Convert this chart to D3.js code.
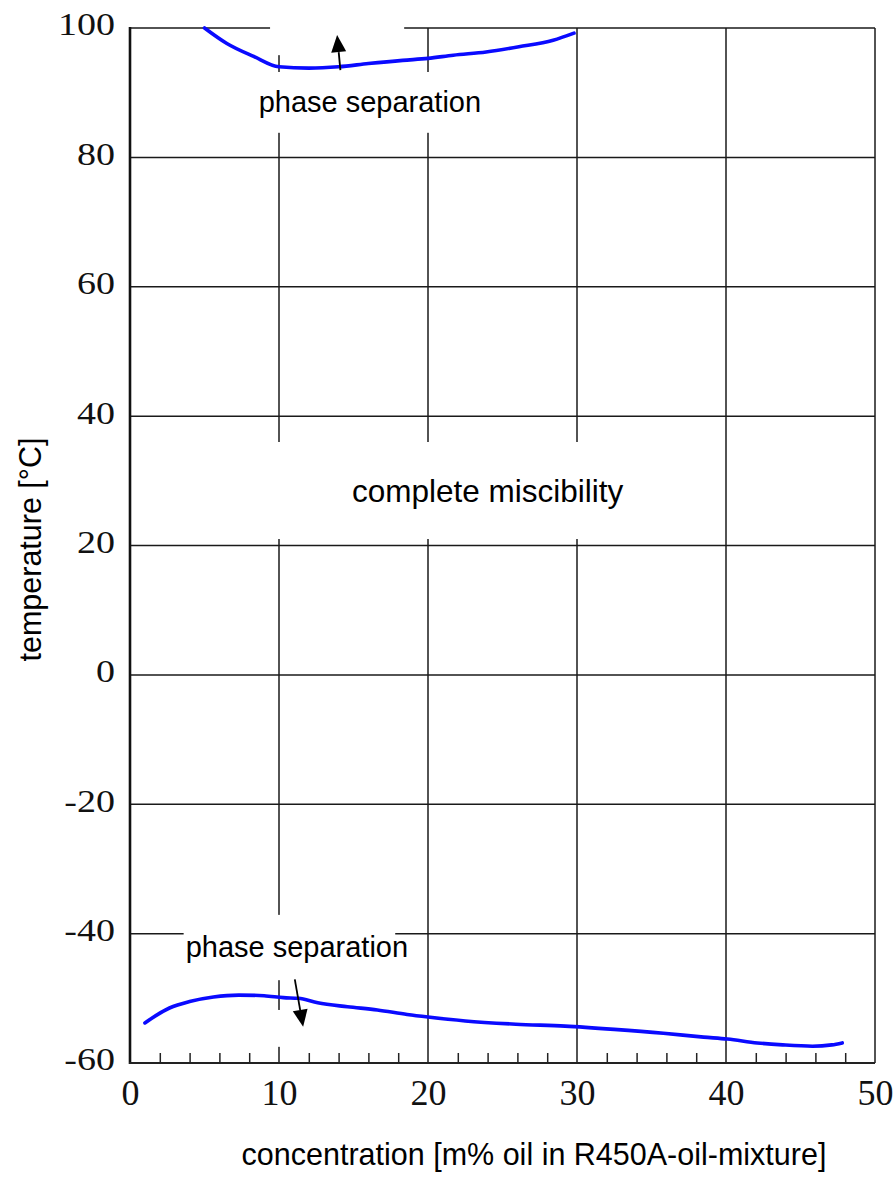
<!DOCTYPE html>
<html><head><meta charset="utf-8">
<script src="https://cdn.jsdelivr.net/npm/d3@7"></script>
<style>body{margin:0;background:#fff} svg{display:block}</style>
</head><body>
<svg id="c" width="896" height="1180"></svg>
<script>
// ---- data ----
const xTicks = [0, 10, 20, 30, 40, 50];
const yTicks = [-60, -40, -20, 0, 20, 40, 60, 80, 100];
const xTickLabels = ["0", "10", "20", "30", "40", "50"];
const yTickLabels = ["-60", "-40", "-20", "0", "20", "40", "60", "80", "100"];
const xMinorTicks = [2, 4, 6, 8, 12, 14, 16, 18, 22, 24, 26, 28, 32, 34, 36, 38, 42, 44, 46, 48];
const upperConc = [5, 6.5, 8.3, 10, 12, 14, 16, 18.3, 20, 21.7, 23.9, 26.1, 28.4, 29.8];
const upperTemp = [100, 97.6, 95.6, 94.0, 93.8, 94.0, 94.5, 95.0, 95.3, 95.8, 96.3, 97.1, 98.1, 99.2];
const lowerConc = [1, 2.65, 4, 5.6, 7.3, 9, 10.3, 11.3, 12.6, 14.6, 16.6, 18.6, 20, 22.5, 25.9, 29.2, 32.5, 35.8, 38.5, 40.1, 42.1, 43.8, 45.8, 47.1, 47.8];
const lowerTemp = [-53.8, -51.5, -50.5, -49.8, -49.5, -49.6, -49.9, -50.0, -50.7, -51.3, -51.8, -52.5, -52.9, -53.5, -54.0, -54.3, -54.8, -55.4, -56.0, -56.3, -56.9, -57.2, -57.4, -57.2, -56.9];
const labelTexts = ["phase separation", "complete miscibility", "phase separation"];
const labelConc = [16.1, 24.0, 11.2];
const labelTemp = [87.0, 26.7, -43.6];
const arrowFrom = [[14.12, 93.5], [11.06, -47.06]];
const arrowTo = [[13.9, 98.9], [11.62, -54.4]];
// label masks (data units): [c0, c1, t0, t1]
const masks = [[9.4, 18.4, 95.8, 104.5], [8.0, 24.1, 83.8, 93.2], [7.4, 35.5, 21.0, 36.0], [3.6, 17.8, -47.2, -37.1], [9.5, 10.7, -57.5, -51.8]];
const xTitle = "concentration [m% oil in R450A-oil-mixture]";
const yTitle = "temperature [°C]";

// ---- layout ----
const W = 896, H = 1180;
const m = {l: 130, t: 28, r: 21, b: 117};
const svg = d3.select("#c");
const x = d3.scaleLinear().domain([0, 50]).range([m.l, W - m.r]);
const y = d3.scaleLinear().domain([-60, 100]).range([H - m.b, m.t]);
const X0 = x(0), X1 = x(50), Y0 = y(-60), Y1 = y(100);

// gridlines
const grid = svg.append("g").attr("stroke", "#1a1a1a").attr("stroke-width", 1.5);
grid.selectAll("line.h").data(yTicks.filter(d => d > -60)).join("line")
  .attr("x1", X0).attr("x2", X1).attr("y1", d => y(d)).attr("y2", d => y(d));
grid.selectAll("line.v").data(xTicks.filter(d => d > 0)).join("line")
  .attr("y1", Y1).attr("y2", Y0).attr("x1", d => x(d)).attr("x2", d => x(d));

// white label masks
svg.append("g").selectAll("rect").data(masks).join("rect")
  .attr("x", d => x(d[0])).attr("width", d => x(d[1]) - x(d[0]))
  .attr("y", d => y(d[3])).attr("height", d => y(d[2]) - y(d[3]))
  .attr("fill", "#fff");

// axes lines
svg.append("line").attr("x1", X0).attr("x2", X0).attr("y1", Y1 - 1).attr("y2", Y0 + 1)
  .attr("stroke", "#111").attr("stroke-width", 2.6);
svg.append("line").attr("x1", X0 - 1).attr("x2", X1).attr("y1", Y0).attr("y2", Y0)
  .attr("stroke", "#222").attr("stroke-width", 2);

// minor ticks
const minor = svg.append("g").attr("transform", `translate(0,${Y0})`)
  .call(d3.axisTop(x).tickValues(xMinorTicks).tickSize(10).tickFormat(""));
minor.select(".domain").remove();
minor.selectAll("line").attr("stroke", "#222").attr("stroke-width", 1.5);

// x tick labels
const xa = svg.append("g").attr("transform", `translate(0,${Y0})`)
  .call(d3.axisBottom(x).tickValues(xTicks).tickSize(0).tickFormat((d, i) => xTickLabels[i]));
xa.select(".domain").remove();
xa.selectAll("text").attr("y", 42).attr("dy", 0)
  .attr("font-family", "'Liberation Serif','Times New Roman',serif").attr("font-size", 36).attr("fill", "#111");

// y tick labels
const ya = svg.append("g").attr("transform", `translate(${X0},0)`)
  .call(d3.axisLeft(y).tickValues(yTicks).tickSize(0).tickFormat((d, i) => yTickLabels[i]));
ya.select(".domain").remove();
ya.selectAll("text").attr("x", -15).attr("dy", 0).attr("y", 8.5)
  .attr("transform", "scale(1,0.82)")
  .attr("font-family", "'Liberation Serif','Times New Roman',serif").attr("font-size", 38).attr("fill", "#111");

// curves
const line = d3.line().x(d => x(d[0])).y(d => y(d[1])).curve(d3.curveMonotoneX);
[[upperConc, upperTemp], [lowerConc, lowerTemp]].forEach(([cs, ts]) => {
  svg.append("path").datum(cs.map((c, i) => [c, ts[i]]))
    .attr("d", line).attr("fill", "none").attr("stroke", "#0a0aff")
    .attr("stroke-width", 3.6).attr("stroke-linecap", "round");
});

// arrows
arrowFrom.forEach((f, i) => {
  const t = arrowTo[i];
  const x1 = x(f[0]), y1 = y(f[1]), x2 = x(t[0]), y2 = y(t[1]);
  const ang = Math.atan2(y2 - y1, x2 - x1);
  const hl = 17, hw = 7.5;
  const bx = x2 - hl * Math.cos(ang), by = y2 - hl * Math.sin(ang);
  svg.append("line").attr("x1", x1).attr("y1", y1).attr("x2", bx).attr("y2", by)
    .attr("stroke", "#000").attr("stroke-width", 1.8);
  const px = -Math.sin(ang) * hw, py = Math.cos(ang) * hw;
  svg.append("path").attr("d", `M${x2},${y2}L${bx + px},${by + py}L${bx - px},${by - py}Z`).attr("fill", "#000");
});

// annotation labels
const fontSizes = [29, 31.5, 29];
svg.append("g").selectAll("text").data(labelTexts).join("text")
  .attr("x", (d, i) => x(labelConc[i])).attr("y", (d, i) => y(labelTemp[i]))
  .attr("text-anchor", "middle")
  .attr("font-family", "'Liberation Sans',Arial,sans-serif")
  .attr("font-size", (d, i) => fontSizes[i]).attr("fill", "#000")
  .text(d => d);

// axis titles
svg.append("text").attr("x", 534).attr("y", 1165).attr("text-anchor", "middle")
  .attr("font-family", "'Liberation Sans',Arial,sans-serif").attr("font-size", 30.5).attr("fill", "#000")
  .text(xTitle);
svg.append("text").attr("transform", `translate(41,${(Y0 + Y1) / 2 + 4}) rotate(-90)`).attr("text-anchor", "middle")
  .attr("font-family", "'Liberation Sans',Arial,sans-serif").attr("font-size", 30.5).attr("fill", "#000")
  .text(yTitle);
</script>
</body></html>
